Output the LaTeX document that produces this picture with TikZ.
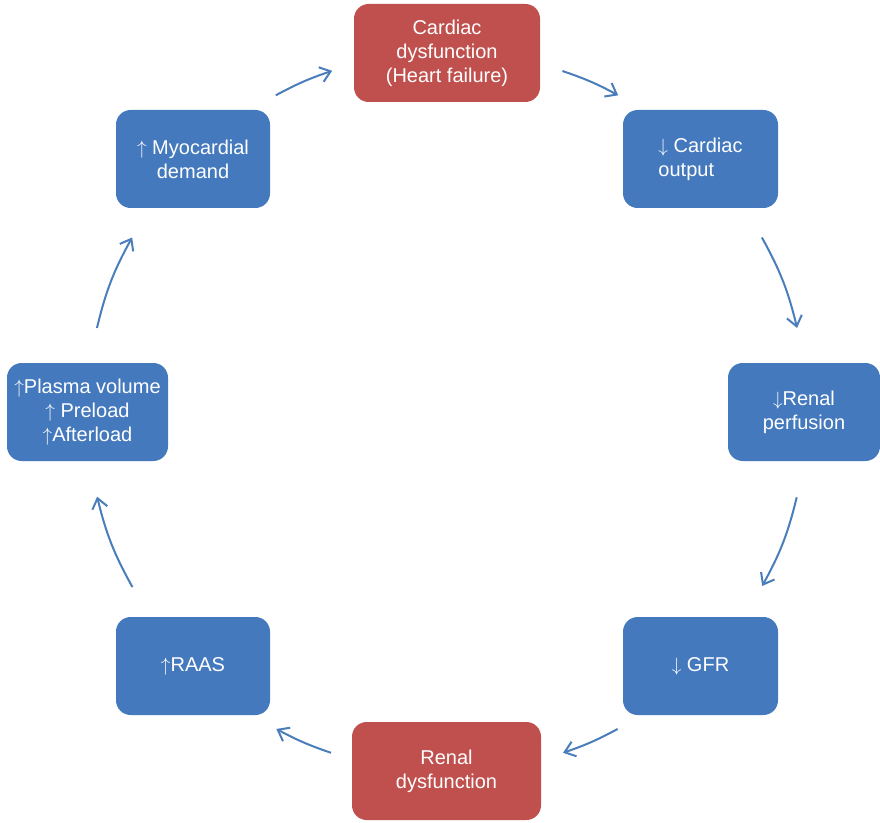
\documentclass[tikz,border=0pt]{standalone}
\usepackage{fontspec}
\setmainfont{Liberation Sans}
\usetikzlibrary{arrows.meta}
\definecolor{boxblue}{RGB}{68,121,189}
\definecolor{boxred}{RGB}{192,80,77}
\definecolor{flowblue}{RGB}{74,126,187}
% tall thin rise/fall arrows in front of the labels
\newcommand{\rise}{\ensuremath{\uparrow}}
\newcommand{\fall}{\ensuremath{\downarrow}}
\tikzset{
  stage/.style={draw=none, fill=boxblue, rounded corners=11pt, text=white,
    minimum height=73.5pt, inner sep=2pt, align=center,
    font=\fontsize{15}{18}\selectfont},
  keystage/.style={stage, fill=boxred},
  flow/.style={draw=flowblue, line width=1.5pt,
    -{Straight Barb[length=7.5pt,width=11.5pt,line width=1.5pt]}}
}
\begin{document}
\begin{tikzpicture}[x=0.75pt,y=0.75pt]
\useasboundingbox (0,0) rectangle (880,822);

% stages of the cardio-renal cycle
\node[keystage, minimum width=139.5pt] (cd) at (447,769) {Cardiac\\dysfunction\\(Heart failure)};
\node[stage, minimum width=116.25pt, align=left] (co) at (700.5,663) {\fall{} Cardiac\\output};
\node[stage, minimum width=114pt] (rp) at (804,410) {\fall Renal\\perfusion};
\node[stage, minimum width=116.25pt] (gfr) at (700.5,156) {\fall{} GFR};
\node[keystage, minimum width=141.75pt] (rd) at (446.5,51) {Renal\\dysfunction};
\node[stage, minimum width=115.5pt] (raas) at (193,156) {\rise RAAS};
\node[stage, minimum width=120.75pt] (pv) at (87.5,410) {\rise Plasma volume\\\rise{} Preload\\\rise Afterload};
\node[stage, minimum width=115.5pt] (md) at (193,663) {\rise{} Myocardial\\demand};

% arrow ends lie on one circle around the middle of the cycle
\coordinate (c) at (447,410);
\path (c) ++(118.4:360) coordinate (a1s) (c) ++(108.6:360) coordinate (a1e);
\path (c) ++(71.3:360)  coordinate (a2s) (c) ++(61.6:360)  coordinate (a2e);
\path (c) ++(29.0:360)  coordinate (a3s) (c) ++(13.5:360)  coordinate (a3e);
\path (c) ++(-13.7:360) coordinate (a4s) (c) ++(-28.9:360) coordinate (a4e);
\path (c) ++(-61.7:360) coordinate (a5s) (c) ++(-71.2:360) coordinate (a5e);
\path (c) ++(-108.8:360) coordinate (a6s) (c) ++(-118.3:360) coordinate (a6e);
\path (c) ++(209.1:360) coordinate (a7s) (c) ++(193.6:360) coordinate (a7e);
\path (c) ++(166.5:360) coordinate (a8s) (c) ++(151.0:360) coordinate (a8e);

\draw[flow] (a1s) to[bend left=4.9] (a1e);
\draw[flow] (a2s) to[bend left=4.9] (a2e);
\draw[flow] (a3s) to[bend left=7.75] (a3e);
\draw[flow] (a4s) to[bend left=7.6] (a4e);
\draw[flow] (a5s) to[bend left=4.75] (a5e);
\draw[flow] (a6s) to[bend left=4.75] (a6e);
\draw[flow] (a7s) to[bend left=7.75] (a7e);
\draw[flow] (a8s) to[bend left=7.75] (a8e);
\end{tikzpicture}
\end{document}
